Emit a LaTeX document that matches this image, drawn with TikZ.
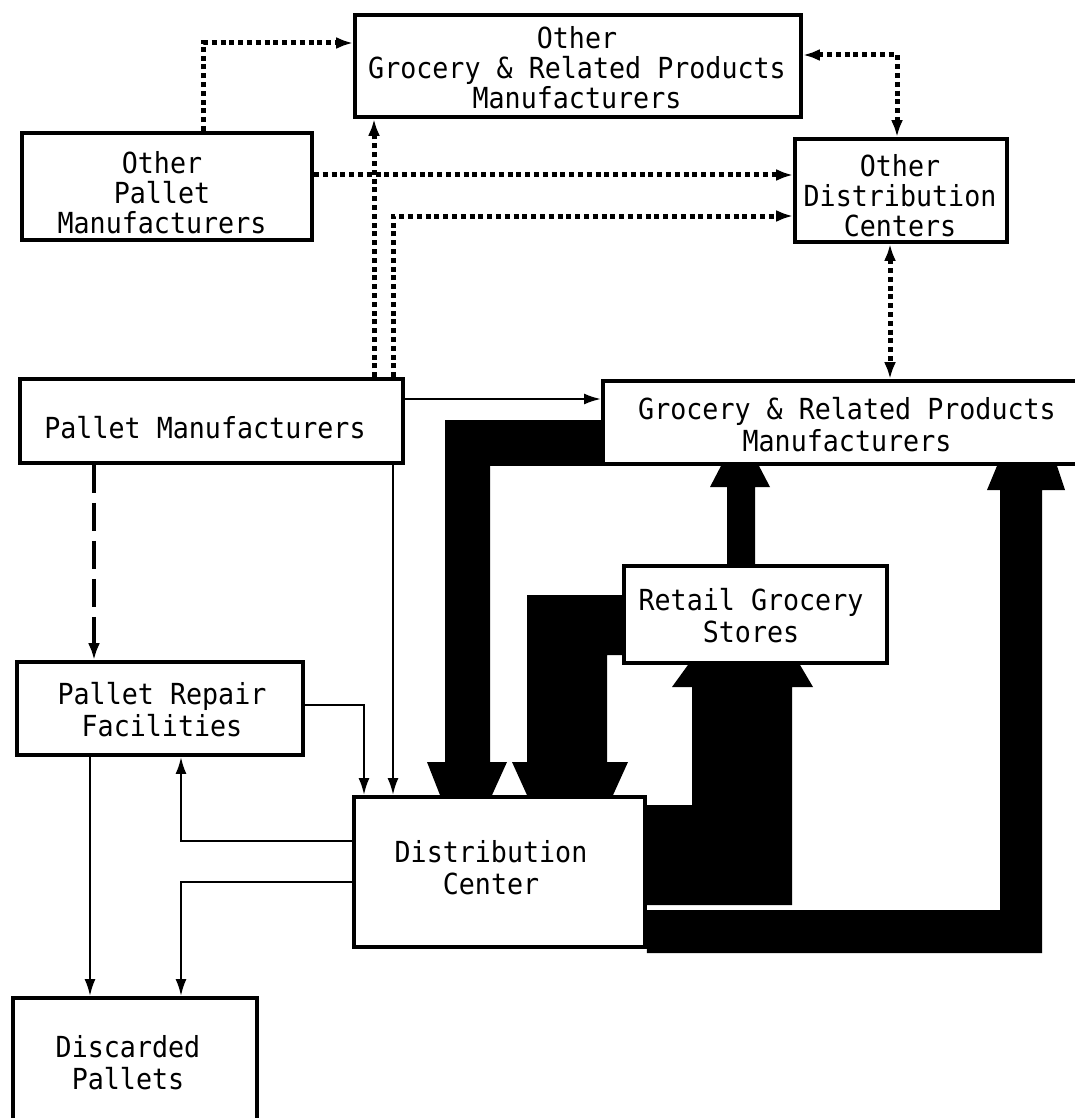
\documentclass[tikz,border=0pt]{standalone}
\usepackage{fontspec}
\newfontfamily\mono[FakeStretch=0.92]{DejaVu Sans Mono}
\usetikzlibrary{arrows.meta}
\begin{document}
\begin{tikzpicture}[x=1pt,y=-1pt,
  nbox/.style={draw,line width=3.8pt,fill=white,inner sep=0pt,rectangle},
  lbl/.style={align=center,inner sep=0pt,font=\mono\fontsize{29}{32}\selectfont},
  lbltight/.style={align=center,inner sep=0pt,font=\mono\fontsize{29}{30}\selectfont},
  thinarr/.style={line width=2.4pt,-{Latex[length=17pt,width=11pt]}},
  dotline/.style={line width=5pt,dash pattern=on 5pt off 3.8pt},
  dotarr/.style={dotline,-{Latex[length=17pt,width=12pt]}},
  dotboth/.style={dotline,{Latex[length=17pt,width=12pt]}-{Latex[length=17pt,width=12pt]}},
  dasharr/.style={line width=4.5pt,dash pattern=on 28pt off 10pt,-{Latex[length=17pt,width=12pt]}},
  band/.style={fill=black}
]
\fill[white] (0,0) rectangle (1075,1118);
\useasboundingbox (0,0) rectangle (1075,1118);

% boxes
\node[nbox,minimum width=446pt,minimum height=102pt] (ogr) at (578,66) {};
\node[nbox,minimum width=290pt,minimum height=107pt] (opm) at (167,186.5) {};
\node[nbox,minimum width=212pt,minimum height=103pt] (odc) at (901,190.5) {};
\node[nbox,minimum width=383pt,minimum height=84pt] (pm) at (211.5,421) {};
\node[nbox,minimum width=489pt,minimum height=83pt] (grpm) at (847.5,422.5) {};
\node[nbox,minimum width=263pt,minimum height=97pt] (rgs) at (755.5,614.5) {};
\node[nbox,minimum width=286pt,minimum height=93pt] (prf) at (160,708.5) {};
\node[nbox,minimum width=291pt,minimum height=150pt] (dc) at (499.5,872) {};
\node[nbox,minimum width=244pt,minimum height=140pt] (dp) at (135,1068) {};

% texts
\node[lbltight] (ogrt) at (577,68) {Other\\Grocery \& Related Products\\Manufacturers};
\node[lbltight] (opmt) at (162,193) {Other\\Pallet\\Manufacturers};
\node[lbltight] (odct) at (900,196) {Other\\Distribution\\Centers};
\node[lbl] (pmt) at (205,428) {Pallet Manufacturers};
\node[lbl] (grpmt) at (847,425) {Grocery \& Related Products\\Manufacturers};
\node[lbl] (rgst) at (751,616) {Retail Grocery\\Stores};
\node[lbl] (prft) at (162,710) {Pallet Repair\\Facilities};
\node[lbl] (dct) at (491,868) {Distribution\\Center};
\node[lbl] (dpt) at (128,1063) {Discarded\\Pallets};

% thick bands
% GRPM -> DC
\fill[band] (grpm.west |- 0,420) -- (445,420) -- (445,762) -- (427,762)
  -- (440,0 |- dc.north) -- (492,0 |- dc.north) -- (507,762) -- (490,762)
  -- (490,0 |- grpm.south) -- (grpm.south west) -- cycle;
% RGS -> DC
\fill[band] (rgs.west |- 0,595) -- (527,595) -- (527,762) -- (512,762)
  -- (527,0 |- dc.north) -- (613,0 |- dc.north) -- (628,762) -- (607,762)
  -- (607,655) -- (rgs.west |- 0,655) -- cycle;
% DC -> RGS
\fill[band] (dc.east |- 0,805) -- (692,805) -- (692,687) -- (672,687)
  -- (688,0 |- rgs.south) -- (800,0 |- rgs.south) -- (813,687) -- (792,687)
  -- (792,905) -- (dc.east |- 0,905) -- cycle;
% DC -> GRPM
\fill[band] (dc.east |- 0,910) -- (1000,910) -- (1000,490) -- (987,490)
  -- (997,0 |- grpm.south) -- (1057,0 |- grpm.south) -- (1065,490) -- (1042,490)
  -- (1042,953) -- (dc.east |- 0,953) -- cycle;
% RGS -> GRPM
\fill[band] (727,0 |- rgs.north) -- (727,487) -- (710,487)
  -- (721,0 |- grpm.south) -- (759,0 |- grpm.south) -- (770,487) -- (755,487)
  -- (755,0 |- rgs.north) -- cycle;

% dotted connectors
\draw[dotarr] (203,0 |- opm.north) |- (ogr.west |- 0,43);
\draw[dotarr] (opm.east |- 0,175) -- (odc.west |- 0,175);
\draw[dotarr] (374,0 |- pm.north) -- (374,0 |- ogr.south);
\draw[dotarr] (393,0 |- pm.north) |- (odc.west |- 0,216);
\draw[dotboth] (ogr.east |- 0,55) -| (897,0 |- odc.north);
\draw[dotboth] (890,0 |- odc.south) -- (890,0 |- grpm.north);

% thin connectors
\draw[thinarr] (pm.east |- 0,399) -- (grpm.west |- 0,399);
\draw[thinarr] (393,0 |- pm.south) -- (393,0 |- dc.north);
\draw[thinarr] (prf.east |- 0,705) -| (364,0 |- dc.north);
\draw[thinarr] (dc.west |- 0,841) -| (181,0 |- prf.south);
\draw[thinarr] (dc.west |- 0,882) -| (181,0 |- dp.north);
\draw[thinarr] (90,0 |- prf.south) -- (90,0 |- dp.north);
\draw[dasharr] (94,0 |- pm.south) -- (94,0 |- prf.north);
\end{tikzpicture}
\end{document}
